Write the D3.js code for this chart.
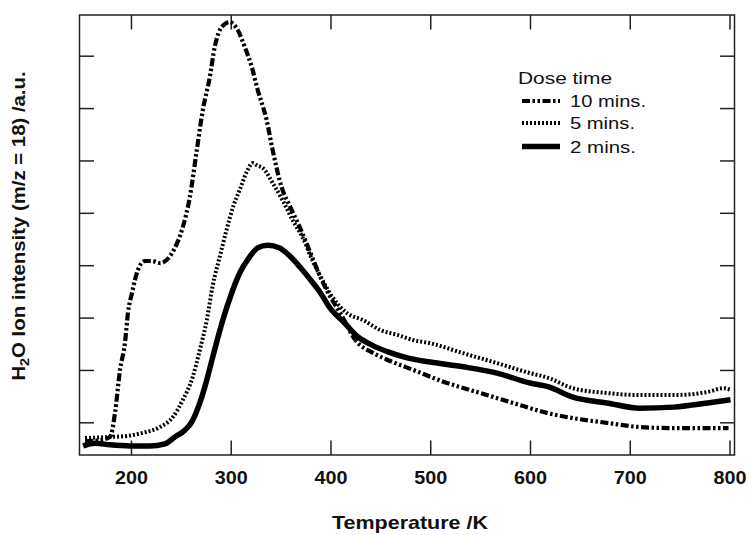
<!DOCTYPE html>
<html>
<head>
<meta charset="utf-8">
<script src="https://cdn.jsdelivr.net/npm/d3@7"></script>
<style>
  body { margin: 0; background: #fff; }
  svg text { font-family: "Liberation Sans", Arial, sans-serif; fill: #111; }
</style>
</head>
<body>
<div id="my_dataviz"></div>
<script>
// Data (intensity in arbitrary units, 1 unit = 1 tick step)
const seriesNames = ["10 mins.", "5 mins.", "2 mins."];

const temp10 = [154, 169, 179, 184, 189, 194, 197, 201, 207, 214, 221, 229, 244, 252, 259, 266, 272, 279, 284, 291, 299, 307, 314, 321, 327, 336, 342, 351, 360, 370, 380, 390, 400, 410, 425, 443, 460, 483, 517, 550, 583, 617, 643, 677, 710, 744, 778, 799];
const ion10  = [0.64, 0.66, 0.72, 1.18, 2.00, 2.52, 3.09, 3.47, 3.91, 4.08, 4.08, 4.04, 4.33, 4.73, 5.30, 6.20, 6.96, 7.59, 8.17, 8.55, 8.64, 8.49, 8.17, 7.79, 7.35, 6.77, 6.20, 5.49, 5.10, 4.69, 4.23, 3.77, 3.39, 3.08, 2.57, 2.32, 2.17, 2.00, 1.75, 1.56, 1.37, 1.18, 1.08, 0.99, 0.91, 0.89, 0.89, 0.89];

const temp5 = [154, 179, 196, 212, 229, 242, 252, 262, 269, 276, 282, 289, 296, 303, 309, 316, 322, 327, 332, 342, 352, 362, 372, 382, 392, 402, 417, 433, 450, 467, 483, 500, 533, 567, 600, 618, 643, 677, 710, 744, 778, 794, 801];
const ion5  = [0.70, 0.72, 0.74, 0.80, 0.91, 1.10, 1.43, 1.87, 2.38, 2.95, 3.62, 4.16, 4.69, 5.15, 5.44, 5.78, 5.95, 5.90, 5.86, 5.57, 5.24, 4.86, 4.53, 4.09, 3.71, 3.39, 3.08, 2.95, 2.76, 2.67, 2.57, 2.51, 2.32, 2.13, 1.94, 1.85, 1.65, 1.56, 1.52, 1.52, 1.58, 1.65, 1.62];

const temp2 = [152, 164, 179, 199, 219, 234, 244, 254, 261, 269, 276, 282, 287, 292, 301, 309, 319, 327, 337, 349, 359, 370, 380, 390, 400, 413, 427, 443, 457, 477, 500, 533, 567, 600, 618, 643, 677, 710, 744, 778, 801];
const ion2  = [0.55, 0.60, 0.57, 0.55, 0.55, 0.59, 0.72, 0.85, 1.01, 1.37, 1.81, 2.25, 2.61, 2.95, 3.47, 3.85, 4.16, 4.33, 4.38, 4.33, 4.18, 3.95, 3.72, 3.47, 3.17, 2.92, 2.64, 2.46, 2.35, 2.23, 2.15, 2.06, 1.94, 1.75, 1.68, 1.48, 1.37, 1.27, 1.29, 1.37, 1.43];

const xTicks = [200, 300, 400, 500, 600, 700, 800];
const yTicks = [1, 2, 3, 4, 5, 6, 7, 8];

// 1. Dimensions
const W = 749, H = 535;
const margin = { top: 15, right: 14.5, bottom: 80, left: 79.5 },
  width = W - margin.left - margin.right,
  height = H - margin.top - margin.bottom;

const svg = d3.select("#my_dataviz")
  .append("svg")
  .attr("width", W)
  .attr("height", H);

const g = svg.append("g")
  .attr("transform", `translate(${margin.left}, ${margin.top})`);

// 2. Scales
const x = d3.scaleLinear().domain([148.4, 805]).range([0, width]);
const y = d3.scaleLinear().domain([0.376, 8.777]).range([height, 0]);

// 3. Frame with inward ticks on all four sides
const tickLen = 14.5;
const axisStyle = (sel) => {
  sel.select(".domain").remove();
  sel.selectAll(".tick line").attr("stroke", "#222").attr("stroke-width", 1.5);
};

g.append("g")
  .attr("transform", `translate(0, ${height})`)
  .call(d3.axisBottom(x).tickValues(xTicks).tickSize(-tickLen).tickPadding(tickLen + 2))
  .call(axisStyle)
  .call((s) => s.selectAll(".tick text")
    .attr("font-size", 18).attr("font-weight", "bold").attr("fill", "#111")
    .attr("textLength", 33).attr("lengthAdjust", "spacingAndGlyphs"));

g.append("g")
  .call(d3.axisTop(x).tickValues(xTicks).tickSize(-tickLen).tickFormat(""))
  .call(axisStyle);

g.append("g")
  .call(d3.axisLeft(y).tickValues(yTicks).tickSize(-tickLen).tickFormat(""))
  .call(axisStyle);

g.append("g")
  .attr("transform", `translate(${width}, 0)`)
  .call(d3.axisRight(y).tickValues(yTicks).tickSize(-tickLen).tickFormat(""))
  .call(axisStyle);

g.append("rect")
  .attr("width", width)
  .attr("height", height)
  .attr("fill", "none")
  .attr("stroke", "#222")
  .attr("stroke-width", 1.5);

// 4. Curves
const styles = {
  "10 mins.": { dash: "8,2.5,2.5,2.5,2.5,2.5", w: 4.2 },
  "5 mins.":  { dash: "2,2", w: 4 },
  "2 mins.":  { dash: null, w: 5.5 }
};

const series = [
  { name: "10 mins.", t: temp10, v: ion10 },
  { name: "5 mins.",  t: temp5,  v: ion5 },
  { name: "2 mins.",  t: temp2,  v: ion2 }
];

const line = d3.line()
  .x((d) => x(d[0]))
  .y((d) => y(d[1]))
  .curve(d3.curveMonotoneX);

series.forEach((s) => {
  const pts = s.t.map((t, i) => [t, s.v[i]]);
  g.append("path")
    .datum(pts)
    .attr("d", line)
    .attr("fill", "none")
    .attr("stroke", "#000")
    .attr("stroke-width", styles[s.name].w)
    .attr("stroke-linejoin", "round")
    .attr("stroke-dasharray", styles[s.name].dash);
});

// 5. Legend
const legend = svg.append("g");
legend.append("text")
  .attr("x", 518).attr("y", 83.5)
  .attr("font-size", 16)
  .attr("textLength", 94).attr("lengthAdjust", "spacingAndGlyphs")
  .text("Dose time");

const rowY = [101, 123, 146.5];
const labelW = { "10 mins.": 76, "5 mins.": 65, "2 mins.": 66 };
seriesNames.forEach((n, i) => {
  legend.append("line")
    .attr("x1", 522).attr("x2", 560)
    .attr("y1", rowY[i]).attr("y2", rowY[i])
    .attr("stroke", "#000")
    .attr("stroke-width", styles[n].w)
    .attr("stroke-dasharray", styles[n].dash);
  legend.append("text")
    .attr("x", 570).attr("y", rowY[i] + 6)
    .attr("font-size", 16)
    .attr("textLength", labelW[n]).attr("lengthAdjust", "spacingAndGlyphs")
    .text(n);
});

// 6. Axis titles
svg.append("text")
  .attr("x", 410).attr("y", 529)
  .attr("text-anchor", "middle")
  .attr("font-size", 18.5).attr("font-weight", "bold")
  .attr("textLength", 156).attr("lengthAdjust", "spacingAndGlyphs")
  .text("Temperature /K");

const yTitle = svg.append("text")
  .attr("transform", "translate(25, 226) rotate(-90) scale(1.1, 1)")
  .attr("text-anchor", "middle")
  .attr("font-size", 18.5).attr("font-weight", "bold");
yTitle.append("tspan").text("H");
yTitle.append("tspan").attr("font-size", 13).attr("dy", 4).text("2");
yTitle.append("tspan").attr("dy", -4).text("O Ion intensity (m/z = 18) /a.u.");
</script>
</body>
</html>
